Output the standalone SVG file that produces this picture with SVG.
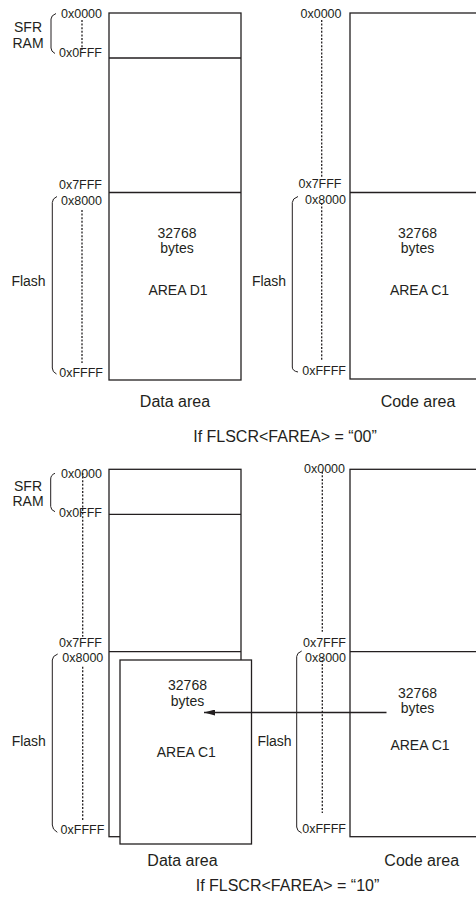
<svg xmlns="http://www.w3.org/2000/svg" width="476" height="906" viewBox="0 0 476 906">
<style>
text{font-family:"Liberation Sans",Arial,sans-serif;fill:#231f20}
.addr{font-size:12.5px;text-anchor:end}
.lbl{font-size:14px;text-anchor:middle}
.cap{font-size:16px;text-anchor:middle}
.box{fill:#fff;stroke:#231f20;stroke-width:1.3}
.ln{fill:none;stroke:#231f20;stroke-width:1.3}
.br{fill:none;stroke:#231f20;stroke-width:1}
.dot{fill:none;stroke:#231f20;stroke-width:1.3;stroke-dasharray:2 1.6}
</style>
<defs>
<marker id="ah" markerWidth="11" markerHeight="6" refX="11" refY="3" orient="auto" markerUnits="userSpaceOnUse">
<path d="M0,0 L11,3 L0,6 Z" fill="#231f20"/>
</marker>
</defs>

<!-- ===== Top: FAREA = 00 ===== -->
<g id="top-data-labels">
<text class="lbl" x="28" y="32">SFR</text>
<text class="lbl" x="28" y="47.5">RAM</text>
<path class="br" d="M56,13.5 Q51,15.5 51,19 L51,48 Q51,51.5 55,53.5"/>
<text class="lbl" x="28.5" y="286">Flash</text>
<path class="br" d="M57,196.5 Q52.3,198.5 52.3,202.5 L52.3,368 Q52.3,372 56.5,374"/>
<path class="dot" d="M82,20 V50 M82,210 V363"/>
<text class="addr" x="102" y="18">0x0000</text>
<text class="addr" x="102" y="57">0x0FFF</text>
<text class="addr" x="102" y="189">0x7FFF</text>
<text class="addr" x="102" y="205">0x8000</text>
<text class="addr" x="103" y="376.5">0xFFFF</text>
</g>
<g id="top-data-area">
<rect class="box" x="109" y="13" width="132" height="367"/>
<path class="ln" d="M109,58 H241 M109,192.5 H241"/>
<text class="lbl" x="177" y="238">32768</text>
<text class="lbl" x="177" y="253">bytes</text>
<text class="lbl" x="178" y="295">AREA D1</text>
<text class="cap" x="175" y="407">Data area</text>
</g>
<g id="top-code-labels">
<text class="lbl" x="269" y="286">Flash</text>
<path class="br" d="M298,196.5 Q292.3,198.5 292.3,202.5 L292.3,367 Q292.3,371 298,372"/>
<path class="dot" d="M321.7,20 V178 M321.7,203 V360"/>
<text class="addr" x="341.5" y="18">0x0000</text>
<text class="addr" x="341.5" y="188">0x7FFF</text>
<text class="addr" x="346" y="204">0x8000</text>
<text class="addr" x="346" y="375">0xFFFF</text>
</g>
<g id="top-code-area">
<rect class="box" x="350" y="13" width="140" height="366"/>
<path class="ln" d="M350,192.5 H476"/>
<text class="lbl" x="417.5" y="238">32768</text>
<text class="lbl" x="417.5" y="253">bytes</text>
<text class="lbl" x="419.5" y="295">AREA C1</text>
<text class="cap" x="418" y="407">Code area</text>
</g>
<g id="top-caption">
<text class="cap" x="285" y="442">If FLSCR&lt;FAREA&gt; = “00”</text>
</g>

<!-- ===== Bottom: FAREA = 10 ===== -->
<g id="bottom-data-labels">
<text class="lbl" x="28" y="490.5">SFR</text>
<text class="lbl" x="28" y="506">RAM</text>
<path class="br" d="M55,473.3 Q50.7,475 50.7,479 L50.7,506.5 Q50.7,510 55,511.7"/>
<text class="lbl" x="28.8" y="746">Flash</text>
<path class="br" d="M57.7,654 Q52.3,656 52.3,660 L52.3,825 Q52.3,829.5 57.3,832.3"/>
<path class="dot" d="M82.7,473 V636.7 M82.7,666.7 V820"/>
<text class="addr" x="102" y="478.3">0x0000</text>
<text class="addr" x="102" y="516.5">0x0FFF</text>
<text class="addr" x="102" y="646.7">0x7FFF</text>
<text class="addr" x="103.3" y="661.7">0x8000</text>
<text class="addr" x="104.3" y="834">0xFFFF</text>
</g>
<g id="bottom-data-area">
<rect class="box" x="109" y="469.3" width="132" height="367.4"/>
<path class="ln" d="M109,514.3 H241 M109,651.7 H241"/>
<text class="cap" x="182.5" y="866">Data area</text>
</g>
<g id="bottom-area-c1-copy">
<rect class="box" x="120" y="660" width="131.5" height="184"/>
<text class="lbl" x="187.5" y="690">32768</text>
<text class="lbl" x="187.5" y="705.5">bytes</text>
<text class="lbl" x="186.3" y="757">AREA C1</text>
</g>
<g id="bottom-code-labels">
<text class="lbl" x="274.5" y="746">Flash</text>
<path class="br" d="M301.7,651 Q296.7,653 296.7,656.5 L296.7,827 Q296.7,831 301.7,833"/>
<path class="dot" d="M322.3,471.7 V631.7 M322.3,656.7 V813"/>
<text class="addr" x="345" y="473.3">0x0000</text>
<text class="addr" x="346" y="646.7">0x7FFF</text>
<text class="addr" x="346" y="661.7">0x8000</text>
<text class="addr" x="346" y="833.3">0xFFFF</text>
</g>
<g id="bottom-code-area">
<rect class="box" x="350" y="469.3" width="140" height="367.4"/>
<path class="ln" d="M350,651.7 H476"/>
<text class="lbl" x="417.5" y="698.3">32768</text>
<text class="lbl" x="417.5" y="713">bytes</text>
<text class="lbl" x="420" y="750">AREA C1</text>
<text class="cap" x="421.7" y="866">Code area</text>
</g>
<g id="bottom-caption">
<text class="cap" x="287.5" y="891">If FLSCR&lt;FAREA&gt; = “10”</text>
</g>

<g id="connectors">
<line class="ln" x1="386.5" y1="712.5" x2="204" y2="712.5" stroke-width="1.1" marker-end="url(#ah)"/>
</g>
</svg>
